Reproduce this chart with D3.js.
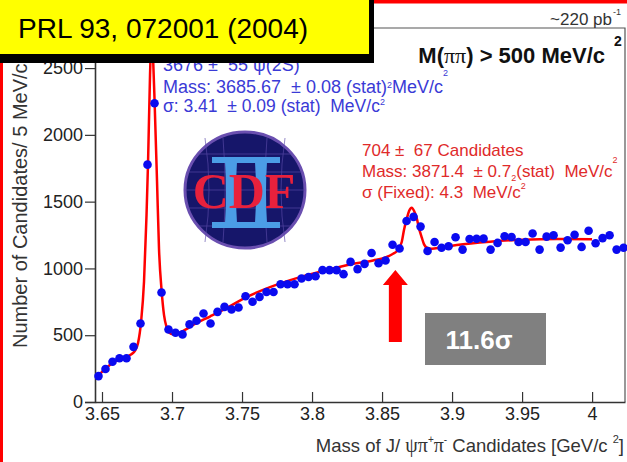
<!DOCTYPE html>
<html>
<head>
<meta charset="utf-8">
<script src="https://cdnjs.cloudflare.com/ajax/libs/d3/7.8.5/d3.min.js"></script>
<style>
body { margin: 0; background: #fff; }
svg { display: block; font-family: "Liberation Sans", Arial, sans-serif; }
text { white-space: pre; }
</style>
</head>
<body>
<div id="container"></div>
<script>
var w = 627;
var h = 462;

// 5 MeV bins, first bin centre at 3.6475 GeV
var binStart = 3.6475;
var binWidth = 0.005;
var counts = [194, 247, 301, 327, 327, 413, 588, 1777, 2237, 820,
  543, 518, 506, 581, 608, 663, 588, 675, 712, 693,
  708, 792, 750, 787, 824, 824, 882, 882, 882, 925,
  936, 942, 987, 987, 987, 957, 1049, 995, 1034, 1116,
  1039, 1059, 1177, 1149, 1355, 1386, 1313, 1131, 1198, 1155,
  1166, 1233, 1141, 1220, 1222, 1223, 1141, 1191, 1241, 1235,
  1198, 1198, 1261, 1141, 1238, 1248, 1156, 1211, 1252, 1161,
  1282, 1188, 1227, 1248, 1141, 1155];

// fit curve
var fitMass = [3.6455, 3.6474, 3.6521, 3.6571, 3.6621, 3.6671, 3.6707, 3.6736, 3.6757, 3.6779,
  3.6800, 3.6818, 3.6829, 3.6843, 3.6855, 3.6864, 3.6876, 3.6893, 3.6907, 3.6926,
  3.6943, 3.6961, 3.6979, 3.7007, 3.7043, 3.7093, 3.7164, 3.7271, 3.7393, 3.7521,
  3.7700, 3.7914, 3.8129, 3.8271, 3.8436, 3.8521, 3.8579, 3.8607, 3.8641, 3.8657,
  3.8676, 3.8693, 3.8712, 3.8729, 3.8748, 3.8764, 3.8784, 3.8800, 3.8821, 3.8855,
  3.8914, 3.9034, 3.9271, 3.9507, 3.9750, 4.0000];
var fitCounts = [185, 200, 245, 290, 318, 335, 355, 385, 440, 600,
  900, 1400, 1800, 2450, 2780, 2600, 2237, 1650, 1150, 830,
  650, 560, 520, 508, 515, 540, 585, 640, 705, 780,
  860, 935, 995, 1030, 1060, 1080, 1110, 1130, 1200, 1290,
  1370, 1430, 1455, 1430, 1375, 1300, 1230, 1180, 1155, 1148,
  1155, 1175, 1200, 1215, 1220, 1218];

var xTicks = [3.65, 3.7, 3.75, 3.8, 3.85, 3.9, 3.95, 4.0];
var xTickLabels = ["3.65", "3.7", "3.75", "3.8", "3.85", "3.9", "3.95", "4"];
var yTicks = [0, 500, 1000, 1500, 2000, 2500];

var svg = d3.select("div#container").append("svg")
  .attr("width", w)
  .attr("height", h);

var x = d3.scaleLinear().domain([3.645, 4.0235]).range([95, 625]);
var y = d3.scaleLinear().domain([0, 2800]).range([402, 28]);

// frame
svg.append("path")
  .attr("d", "M" + x.range()[0] + "," + y.range()[1] + "H" + x.range()[1] + "V" + y.range()[0])
  .attr("fill", "none")
  .attr("stroke", "#555")
  .attr("stroke-width", 1.2);

// axes
var gy = svg.append("g").attr("transform", "translate(" + x.range()[0] + ",0)");
gy.call(d3.axisLeft(y).tickValues(d3.range(0, 2801, 100)).tickSize(5).tickFormat(""));
gy.call(d3.axisLeft(y).tickValues(yTicks).tickSize(10).tickPadding(2).tickFormat(d3.format("d")));
gy.selectAll("path.domain").attr("stroke", "#333").attr("stroke-width", 1.6);
gy.selectAll("line").attr("stroke", "#333").attr("stroke-width", 1.2);
gy.selectAll("text").attr("font-size", 18).attr("fill", "#222")
  .attr("font-family", "Liberation Sans, Arial, sans-serif");

var gx = svg.append("g").attr("transform", "translate(0," + y.range()[0] + ")");
gx.call(d3.axisBottom(x).tickValues(d3.range(3.65, 4.021, 0.01)).tickSizeInner(-5).tickSizeOuter(0).tickFormat(""));
gx.call(d3.axisBottom(x).tickValues(xTicks).tickSizeInner(-10).tickSizeOuter(0).tickPadding(5)
  .tickFormat(function(d, i) { return xTickLabels[i]; }));
gx.selectAll("path.domain").attr("stroke", "#333").attr("stroke-width", 1.6);
gx.selectAll("line").attr("stroke", "#333").attr("stroke-width", 1.2);
gx.selectAll("text").attr("font-size", 18).attr("fill", "#222")
  .attr("font-family", "Liberation Sans, Arial, sans-serif");

// axis titles
svg.append("text")
  .attr("transform", "translate(27,348) rotate(-90)")
  .attr("font-size", 20)
  .attr("fill", "#333")
  .text("Number of Candidates/ 5 MeV/c\u00b2");

var xt = svg.append("text")
  .attr("x", 624)
  .attr("y", 452)
  .attr("text-anchor", "end")
  .attr("font-size", 18.5)
  .attr("fill", "#333");
xt.append("tspan").text("Mass of J/ ");
xt.append("tspan").attr("font-family", "Liberation Serif, serif").attr("font-size", 20).text("\u03c8\u03c0");
xt.append("tspan").attr("font-size", 10).attr("dy", -9).text("+");
xt.append("tspan").attr("font-family", "Liberation Serif, serif").attr("font-size", 20).attr("dy", 9).text("\u03c0");
xt.append("tspan").attr("font-size", 10).attr("dy", -9).text("-");
xt.append("tspan").attr("dy", 9).text(" Candidates [GeV/c ");
xt.append("tspan").attr("font-size", 11).attr("dy", -9).text("2");
xt.append("tspan").attr("dy", 9).text("]");

// CDF logo
var logo = svg.append("g").attr("transform", "translate(245,190)");
logo.append("ellipse").attr("rx", 60).attr("ry", 58)
  .attr("fill", "#16166a").attr("stroke", "#6a4fb0").attr("stroke-width", 3);
var grid = logo.append("g").attr("stroke", "#5a4aa8").attr("stroke-width", 0.8).attr("fill", "none").attr("opacity", 0.8);
[-36, -18, 0, 18, 36].forEach(function(k) {
  var hw = Math.sqrt(Math.max(0, 58 * 58 - k * k)) * 60 / 58;
  grid.append("line").attr("x1", -hw).attr("x2", hw).attr("y1", k).attr("y2", k);
});
[-40, -22, 22, 40].forEach(function(k) {
  grid.append("path").attr("d", "M" + k + ",-52 Q" + (k * 0.8) + ",0 " + k + ",52");
});
var ii = logo.append("g").attr("fill", "#4b9de6");
ii.append("rect").attr("x", -33).attr("y", -33).attr("width", 68).attr("height", 6);
ii.append("rect").attr("x", -33).attr("y", 32).attr("width", 68).attr("height", 6);
ii.append("path").attr("d", "M-20,-28 H-8 Q-10,2 -8,33 H-20 Q-18,2 -20,-28 Z");
ii.append("path").attr("d", "M10,-28 H22 Q20,2 22,33 H10 Q12,2 10,-28 Z");
logo.append("text")
  .attr("x", -1)
  .attr("y", 18)
  .attr("text-anchor", "middle")
  .attr("font-family", "Liberation Serif, Times New Roman, serif")
  .attr("font-weight", "bold")
  .attr("font-size", 50)
  .attr("fill", "#e8213c")
  .text("CDF");

// fit and data
var line = d3.line()
  .x(function(d, i) { return x(fitMass[i]); })
  .y(function(d) { return y(d); })
  .curve(d3.curveMonotoneX);

svg.append("path")
  .datum(fitCounts)
  .attr("d", line)
  .attr("fill", "none")
  .attr("stroke", "#ff0000")
  .attr("stroke-width", 2.5);

svg.selectAll("circle.pt")
  .data(counts)
  .enter().append("circle")
  .attr("class", "pt")
  .attr("cx", function(d, i) { return x(binStart + i * binWidth); })
  .attr("cy", function(d) { return y(d); })
  .attr("r", 4.3)
  .attr("fill", "#0a0af0");

// psi(2S) fit results
var blue = svg.append("g").attr("fill", "#3a3ad6").attr("font-size", 18);
blue.append("text").attr("x", 163).attr("y", 71)
  .text("3676 \u00b1  55 \u03c8(2S)");
var b2 = blue.append("text").attr("x", 163).attr("y", 93);
b2.append("tspan").text("Mass: 3685.67  \u00b1 0.08 (stat)");
b2.append("tspan").attr("font-size", 9).attr("dy", -5).text("2");
b2.append("tspan").attr("dy", 5).text("MeV/c");
b2.append("tspan").attr("font-size", 9).attr("dy", -17).text("2");
var b3 = blue.append("text").attr("x", 163).attr("y", 112).attr("font-size", 17.5);
b3.append("tspan").text("\u03c3: 3.41  \u00b1 0.09 (stat)  MeV/c");
b3.append("tspan").attr("font-size", 9).attr("dy", -7).text("2");

// X(3872) fit results
var red = svg.append("g").attr("fill", "#e02a2a").attr("font-size", 17);
red.append("text").attr("x", 362).attr("y", 156)
  .text("704 \u00b1  67 Candidates");
var r2 = red.append("text").attr("x", 362).attr("y", 177);
r2.append("tspan").text("Mass: 3871.4  \u00b1 0.7");
r2.append("tspan").attr("font-size", 9).attr("dy", 4).text("2");
r2.append("tspan").attr("dy", -4).text("(stat)  MeV/c");
r2.append("tspan").attr("font-size", 9).attr("dy", -14).text("2");
var r3 = red.append("text").attr("x", 362).attr("y", 198);
r3.append("tspan").text("\u03c3 (Fixed): 4.3  MeV/c");
r3.append("tspan").attr("font-size", 9).attr("dy", -9).text("2");

// cut label and luminosity
var cut = svg.append("text")
  .attr("x", 605).attr("y", 63)
  .attr("text-anchor", "end")
  .attr("font-size", 22).attr("font-weight", "bold").attr("fill", "#111");
cut.append("tspan").text("M(");
cut.append("tspan").attr("font-family", "Liberation Serif, serif").attr("font-weight", "normal").text("\u03c0\u03c0");
cut.append("tspan").text(") > 500 MeV/c");
svg.append("text").attr("x", 614).attr("y", 46)
  .attr("font-size", 14).attr("font-weight", "bold").attr("fill", "#111").text("2");

svg.append("text").attr("x", 612).attr("y", 25)
  .attr("text-anchor", "end").attr("font-size", 17).attr("fill", "#333").text("~220 pb");
svg.append("text").attr("x", 613).attr("y", 15)
  .attr("font-size", 9).attr("fill", "#333").text("-1");

// arrow and significance box
var ax = x(3.8595);
svg.append("path")
  .attr("d", "M" + ax + ",270 L" + (ax + 12.5) + ",285 H" + (ax + 6.5) + " V342 H" + (ax - 6.5) + " V285 H" + (ax - 12.5) + " Z")
  .attr("fill", "#ff0000");
svg.append("rect").attr("x", 425).attr("y", 313).attr("width", 121).attr("height", 52).attr("fill", "#808080");
svg.append("text").attr("x", 479).attr("y", 349)
  .attr("text-anchor", "middle").attr("font-size", 26).attr("font-weight", "bold").attr("fill", "#fff")
  .text("11.6\u03c3");

// slide decorations
svg.append("rect").attr("x", 0).attr("y", 63).attr("width", 3).attr("height", h - 63).attr("fill", "#ff0000");
svg.append("rect").attr("x", 370).attr("y", 0).attr("width", w - 370).attr("height", 3.5).attr("fill", "#ff0000");
svg.append("rect").attr("x", 0).attr("y", 0).attr("width", 374).attr("height", 63).attr("fill", "#000");
svg.append("rect").attr("x", 0).attr("y", 0).attr("width", 369).attr("height", 54).attr("fill", "#ffff00");
svg.append("text").attr("x", 18).attr("y", 38)
  .attr("font-size", 28).attr("fill", "#000")
  .text("PRL 93, 072001 (2004)");
</script>
</body>
</html>
